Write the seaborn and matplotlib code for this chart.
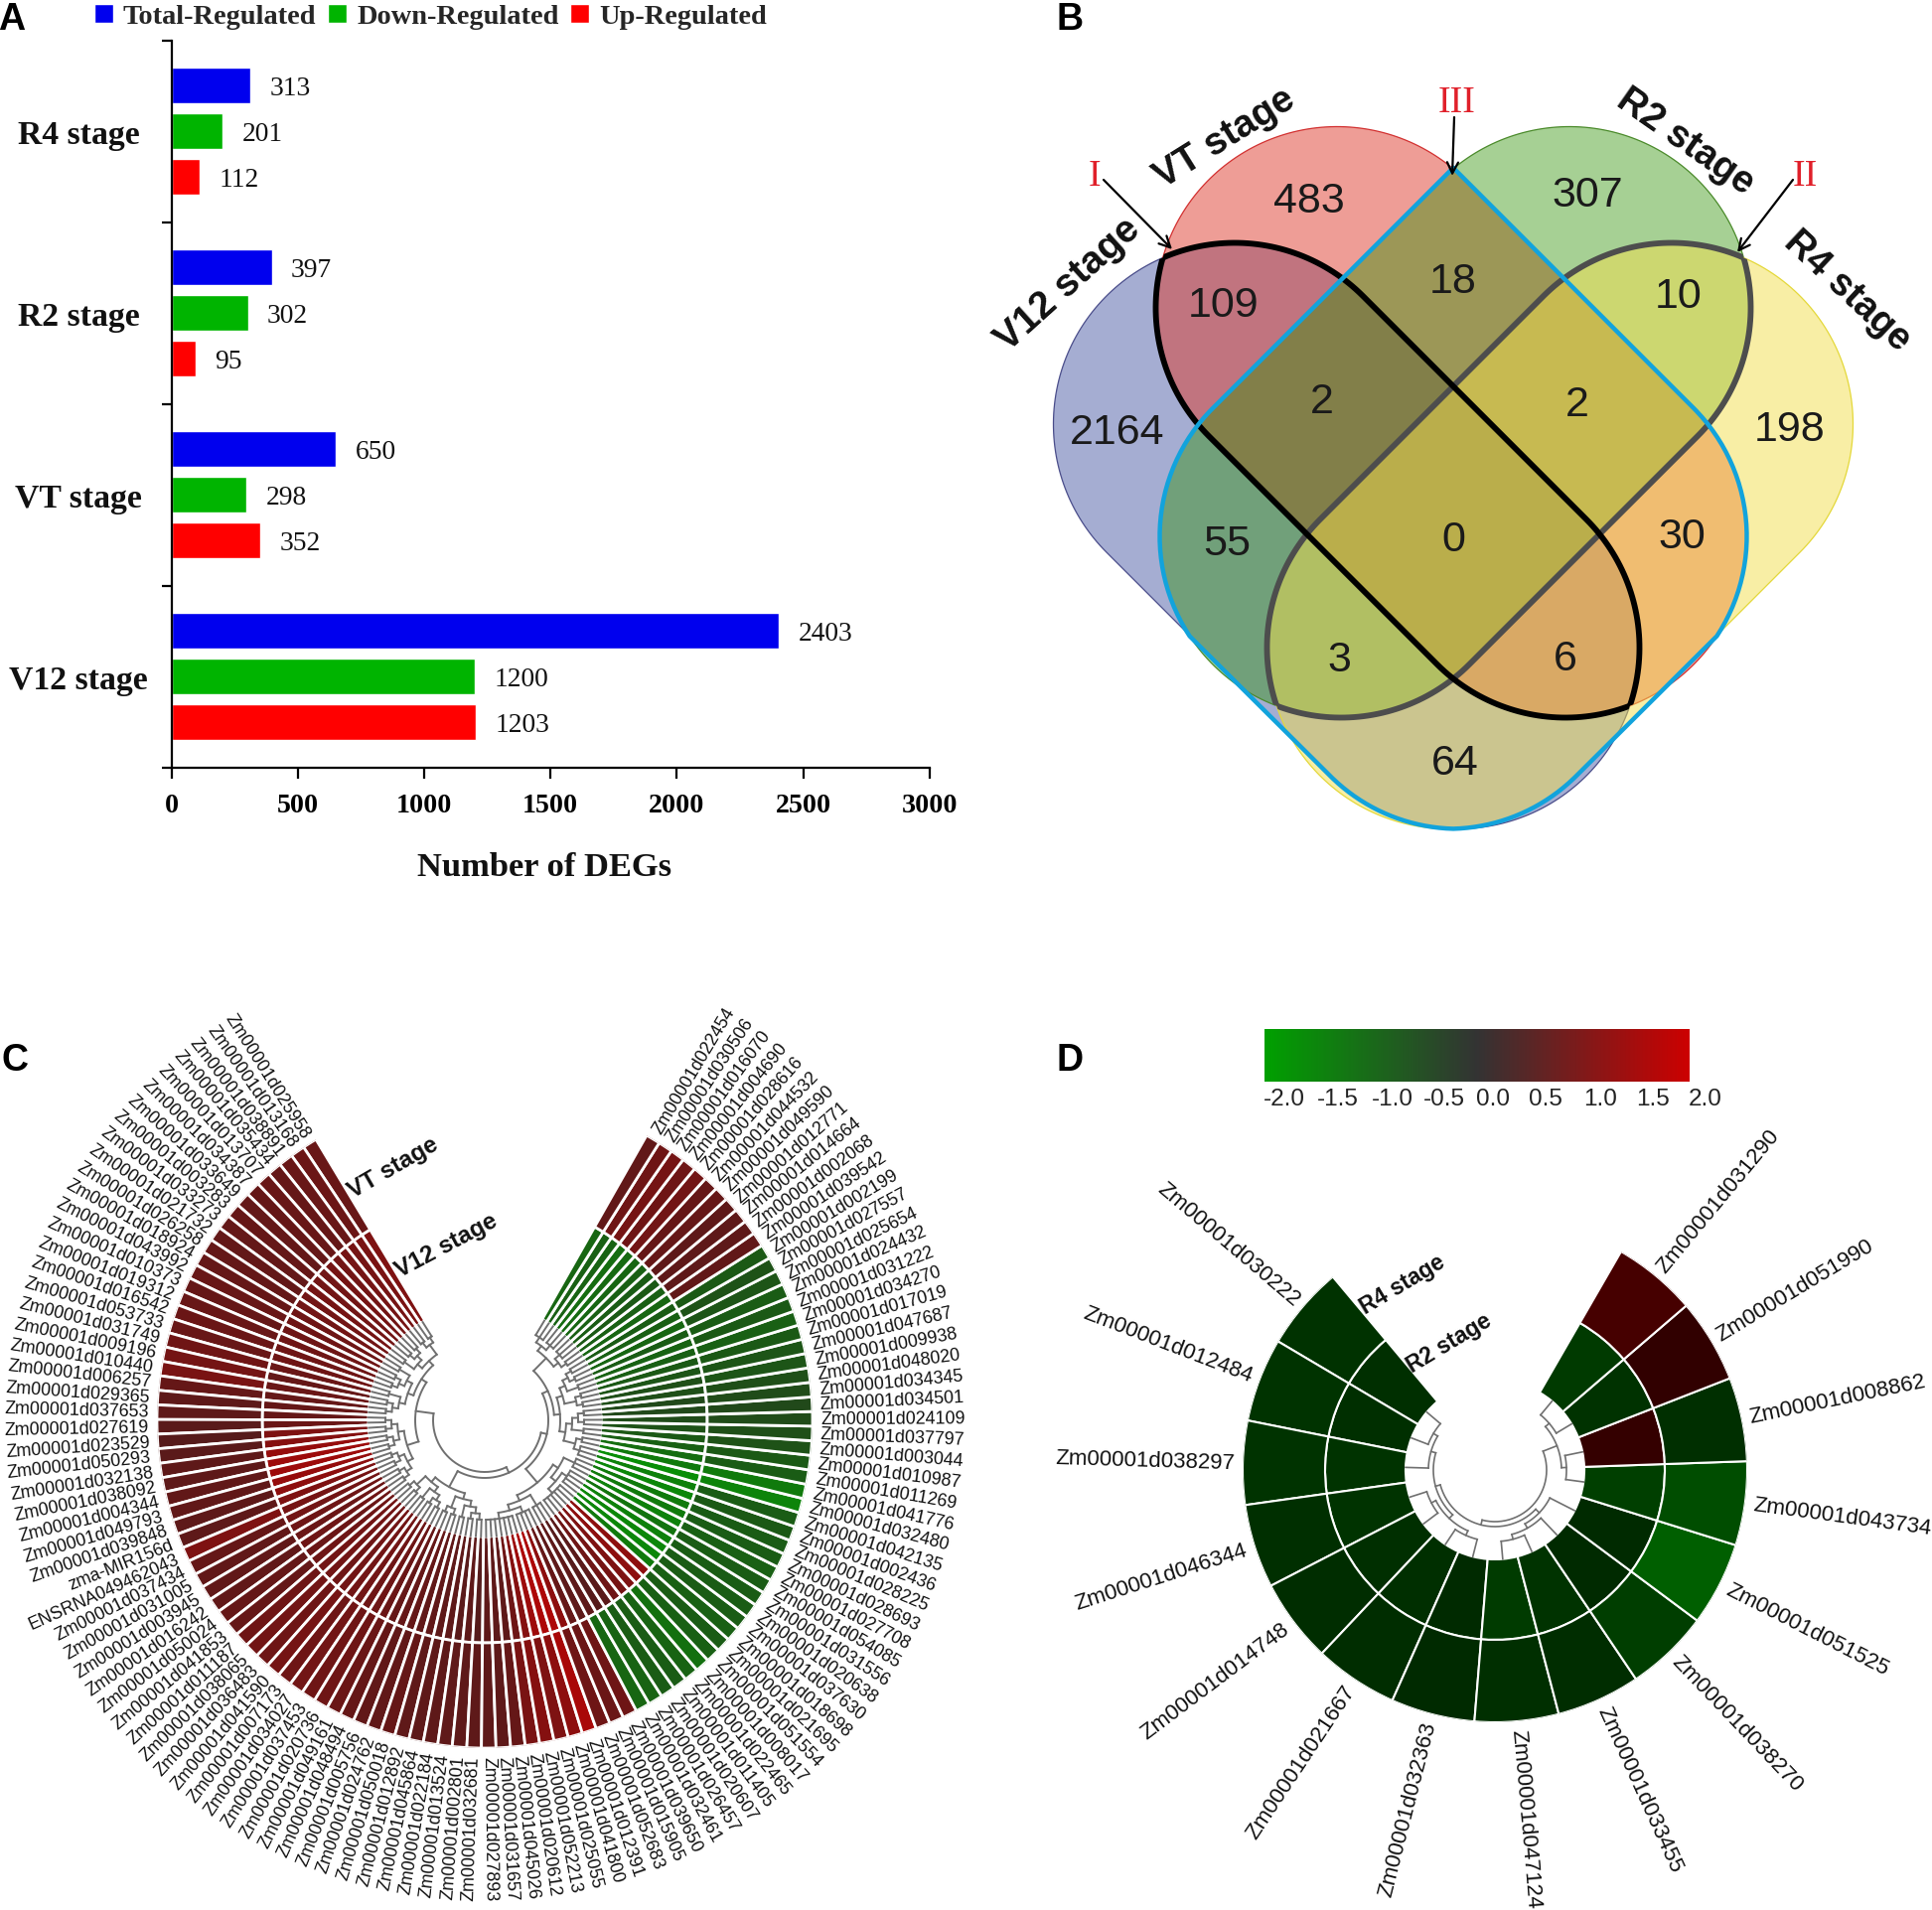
import numpy as np
import pandas as pd
import matplotlib
matplotlib.use("Agg")
import matplotlib.pyplot as plt
from matplotlib.patches import Polygon
from matplotlib.colors import Normalize
import seaborn as sns

W, H = 1945, 1924
sns.set_theme(style="white")
plt.rcParams["font.family"] = ["Liberation Sans", "DejaVu Sans"]

# ---------- Panel A data ----------
stages = ["R4 stage", "R2 stage", "VT stage", "V12 stage"]
total_reg = [313, 397, 650, 2403]
down_reg = [201, 302, 298, 1200]
up_reg = [112, 95, 352, 1203]
reg_names = ["Total-Regulated", "Down-Regulated", "Up-Regulated"]
reg_colors = ["#0000ee", "#00b400", "#ff0000"]
x_ticks = [0, 500, 1000, 1500, 2000, 2500, 3000]

# ---------- Panel B data ----------
venn_counts = ["483", "307", "109", "18", "10", "2", "2", "2164", "198", "55", "0", "30", "3", "6", "64"]
venn_stage_names = ["V12 stage", "VT stage", "R2 stage", "R4 stage"]
venn_marks = ["I", "II", "III"]

# ---------- Panel C data (counter-clockwise from the top left) ----------
genes_c = """Zm00001d025958 Zm00001d013168 Zm00001d038891 Zm00001d035434 Zm00001d013707 Zm00001d034387
Zm00001d033649 Zm00001d003283 Zm00001d033273 Zm00001d021732 Zm00001d026258 Zm00001d018924 Zm00001d043992
Zm00001d010373 Zm00001d019312 Zm00001d016542 Zm00001d053733 Zm00001d031749 Zm00001d009196 Zm00001d010440
Zm00001d006257 Zm00001d029365 Zm00001d037653 Zm00001d027619 Zm00001d023529 Zm00001d050293 Zm00001d032138
Zm00001d038092 Zm00001d004344 Zm00001d049793 Zm00001d039848 zma-MIR156d ENSRNA049462043 Zm00001d037434
Zm00001d031005 Zm00001d003945 Zm00001d016242 Zm00001d050024 Zm00001d041853 Zm00001d011187 Zm00001d038065
Zm00001d036483 Zm00001d041590 Zm00001d007173 Zm00001d034027 Zm00001d037453 Zm00001d020736 Zm00001d049161
Zm00001d048494 Zm00001d005756 Zm00001d024762 Zm00001d050018 Zm00001d012892 Zm00001d045864 Zm00001d022184
Zm00001d013524 Zm00001d002801 Zm00001d032681 Zm00001d027893 Zm00001d031657 Zm00001d045026 Zm00001d020612
Zm00001d052213 Zm00001d025055 Zm00001d041800 Zm00001d012391 Zm00001d052683 Zm00001d015905 Zm00001d039650
Zm00001d032461 Zm00001d026457 Zm00001d020607 Zm00001d011405 Zm00001d022465 Zm00001d008017 Zm00001d051554
Zm00001d021695 Zm00001d018698 Zm00001d037630 Zm00001d020638 Zm00001d031556 Zm00001d054085 Zm00001d027708
Zm00001d028693 Zm00001d028225 Zm00001d002436 Zm00001d042135 Zm00001d032480 Zm00001d041776 Zm00001d011269
Zm00001d010987 Zm00001d003044 Zm00001d037797 Zm00001d024109 Zm00001d034501 Zm00001d034345 Zm00001d048020
Zm00001d009938 Zm00001d047687 Zm00001d017019 Zm00001d034270 Zm00001d031222 Zm00001d024432 Zm00001d025654
Zm00001d027557 Zm00001d002199 Zm00001d039542 Zm00001d002068 Zm00001d014664 Zm00001d012771 Zm00001d049590
Zm00001d044532 Zm00001d028616 Zm00001d004690 Zm00001d016070 Zm00001d030506 Zm00001d022454""".split()

vt_values = [
    .72, .78, .72, .70, .72, .70, .68, .70, .68, .66,
    .68, .70, .72, .70, .72, .75, .72, .82, .88, .95,
    .70, .60, .60, .55, .50, .55, .60, .60, .65, .65,
    .60, .60, 1.0, .70, .65, .65, .65, .70, .70, .80,
    .85, .80, .90, .80, .85, .80, .80, .75, .70, .65,
    .65, .70, .62, .60, .60, .62, .60, .60, .60, .60,
    .70, .95, 1.1, 1.0, 1.2, 1.55, .80, .75, .80, -1.0,
    -.95, -.85, -.85, -.95, -1.15, -.90, -.85, -.90, -.85, -.85,
    -.85, -.85, -.90, -.85, -.85, -.80, -.85, -1.45, -1.3, -.85,
    -.80, -.70, -.65, -.60, -.55, -.60, -.65, -.75, -.75, -.80,
    -.90, -.80, -.85, -.75, -.70, -.80, .65, .60, .60, .60,
    .70, .70, .85, .80, .90, .80, .65,
]
v12_values = [
    1.0, .95, .90, .90, .85, .90, .85, .85, .90, .85,
    .85, .80, .80, .80, .80, .80, .80, .75, .70, .75,
    .70, .70, .70, .75, 1.0, 1.1, 1.3, 1.4, 1.4, 1.3,
    1.2, 1.0, .90, .85, .80, .75, .80, .75, .80, .85,
    .85, .80, .85, .85, .85, .80, .80, .75, .70, .70,
    .70, .65, .65, .60, .60, .55, .60, .50, .60, .60,
    .60, .80, 1.1, 1.4, 1.6, 1.6, 1.2, .70, .60, .60,
    .50, .55, .80, .90, 1.0, 1.2, 1.2, -1.3, -1.5, -1.5,
    -1.4, -1.2, -1.4, -1.3, -1.3, -1.5, -1.4, -1.6, -1.3, -1.1,
    -.90, -.80, -.70, -.60, -.55, -.55, -.65, -.65, -.75, -.80,
    -.90, -.95, -.85, -1.0, -.90, -.85, -1.0, -.90, -.80, -.85,
    -.90, -1.0, -1.05, -1.1, -.95, -.90, -1.0,
]
# integer = a fan of that many leaves, list = a joining node
L1 = [[[2, 2], [[2, 2], 2]], [[2, [2, 2]], [2, [2, 2]]]]
L2 = [[[2, 2], [2, 2]], [[2, 2], [2, 2]]]
L3 = [[[2, 2], [2, [2, 2]]], [[2, 2], [2, [2, 2]]]]
F1 = [[7, 4], 3]
F2 = [[6, 4], 3]
R1 = [[[3, 2], [2, [2, 2]]], [[2, 2], [2, [2, 2]]]]
R2 = [[2, 3], [3, 3]]
tree_c = [[L1, L2], [L3, [[F1, F2], [R1, R2]]]]

# ---------- Panel D data ----------
genes_d = ["Zm00001d030222", "Zm00001d012484", "Zm00001d038297", "Zm00001d046344", "Zm00001d014748",
           "Zm00001d021667", "Zm00001d032363", "Zm00001d047124", "Zm00001d033455", "Zm00001d038270",
           "Zm00001d051525", "Zm00001d043734", "Zm00001d008862", "Zm00001d051990", "Zm00001d031290"]
r4_values = [-.58, -.60, -.60, -.55, -.52, -.52, -.50, -.55, -.52, -.72, -1.12, -.90, -.55, .47, .68]
r2_values = [-.55, -.55, -.60, -.60, -.55, -.55, -.50, -.70, -.60, -.50, -.50, -.75, .50, -.58, -.68]
tree_d = [[[[2, 1], [2, 2]], [[2, 1], 1]], [2, 2]]
cbar_labels = ["-2.0", "-1.5", "-1.0", "-0.5", "0.0", "0.5", "1.0", "1.5", "2.0"]

# ---------- helpers ----------
fig = plt.figure(figsize=(W / 100, H / 100), dpi=100, facecolor="white")


def px_axes(x, y, w, h, **kw):
    return fig.add_axes([x / W, 1 - (y + h) / H, w / W, h / H], **kw)


cmap_bar = sns.blend_palette(["#00a000", "#333333", "#cc0000"], n_colors=256, as_cmap=True)
cmap_c = sns.blend_palette(["#00a800", "#2e2424", "#cc0000"], n_colors=256, as_cmap=True)
cmap_d = sns.blend_palette(["#00aa00", "#000000", "#cc0000"], n_colors=256, as_cmap=True)
norm = Normalize(-2, 2)

# ---------- Panel A ----------
ax_a = px_axes(172.7, 41.7, 763, 732)
df = pd.DataFrame({
    "stage": stages * 3,
    "count": total_reg + down_reg + up_reg,
    "type": [reg_names[0]] * 4 + [reg_names[1]] * 4 + [reg_names[2]] * 4,
})
sns.barplot(data=df, y="stage", x="count", hue="type", order=stages, hue_order=reg_names,
            palette=reg_colors, width=0.75, gap=0.214, saturation=1, ax=ax_a, orient="h")
ax_a.set_xlim(0, 3000)
ax_a.set_ylim(3.5, -0.5)
sns.despine(ax=ax_a)
for s in ("left", "bottom"):
    ax_a.spines[s].set_linewidth(1.6)
    ax_a.spines[s].set_color("black")
for cont in ax_a.containers:
    for t in ax_a.bar_label(cont, fmt="%d", padding=14, fontsize=19.8, family="Liberation Serif", color="#111111"):
        t.xyann = (14, -1.6)
ax_a.set_xticks(x_ticks)
ax_a.set_xticklabels([str(t) for t in x_ticks], fontsize=20.2, fontweight="bold", family="Liberation Serif")
ax_a.tick_params(axis="x", length=8, width=1.6, bottom=True, pad=10, color="black", labelcolor="black")
ax_a.set_yticks(range(len(stages)))
ax_a.set_yticklabels(stages, fontsize=24.3, fontweight="bold", family="Liberation Serif", ha="center", color="#111111")
ax_a.set_yticks(np.arange(-0.5, 4), minor=True)
ax_a.tick_params(axis="y", which="major", length=0, pad=67.5, left=False)
ax_a.tick_params(axis="y", which="minor", length=7.2, width=1.6, left=True, color="black")
ax_a.set_ylabel("")
ax_a.set_xlabel("Number of DEGs", fontsize=24.8, fontweight="bold", family="Liberation Serif", color="#111111")
ax_a.xaxis.set_label_coords(0.492, -0.1157)
handles, labels = ax_a.get_legend_handles_labels()
ax_a.legend(handles, labels, ncol=3, loc="center left", bbox_to_anchor=(95 / W, 1 - 17.5 / H),
            bbox_transform=fig.transFigure, frameon=False, borderaxespad=0, borderpad=0,
            handlelength=0.66, handleheight=0.66, handletextpad=0.36, columnspacing=0.42,
            prop={"family": "Liberation Serif", "weight": "bold", "size": 20.4})


# ---------- polar wheels ----------
def draw_tree(ax, node, cursor, thetas, leaf_r, first_r, step, color, lw):
    """Walk a nested tree of leaf counts and draw it; returns (theta, radius) of the node."""
    kids = []
    if isinstance(node, int):
        if node == 1:
            t = thetas[cursor[0]]
            cursor[0] += 1
            return t, leaf_r
        for _ in range(node):
            kids.append((thetas[cursor[0]], leaf_r))
            cursor[0] += 1
        r_node = first_r
    else:
        kids = [draw_tree(ax, k, cursor, thetas, leaf_r, first_r, step, color, lw) for k in node]
        r_node = min(k[1] for k in kids) - step
        r_node = min(r_node, first_r)
    for t, r in kids:
        ax.plot([t, t], [r, r_node], color=color, lw=lw, solid_capstyle="projecting")
    t0, t1 = kids[0][0], kids[-1][0]
    ax.plot(np.linspace(t0, t1, 30), np.full(30, r_node), color=color, lw=lw, solid_capstyle="projecting")
    return (t0 + t1) / 2, r_node


def wheel(cx, cy, radii, start_deg, sweep_deg, genes, outer, inner, cmap, tree,
          leaf_r, first_r, step, fs, gap, edge_lw, tree_lw):
    R = radii[-1]
    ax = px_axes(cx - R, cy - R, 2 * R, 2 * R, projection="polar")
    n = len(genes)
    d = np.deg2rad(sweep_deg / n)
    theta = np.deg2rad(start_deg) + d * (np.arange(n) + 0.5)
    ax.bar(theta, radii[1] - radii[0], width=d, bottom=radii[0], color=cmap(norm(inner)),
           edgecolor="white", linewidth=edge_lw)
    ax.bar(theta, radii[2] - radii[1], width=d, bottom=radii[1], color=cmap(norm(outer)),
           edgecolor="white", linewidth=edge_lw)
    draw_tree(ax, tree, [0], theta, leaf_r, first_r, step, "#707070", tree_lw)
    for t, g in zip(theta, genes):
        deg = np.rad2deg(t) % 360
        if 90 < deg < 270:
            rot, ha = deg - 180, "right"
        else:
            rot, ha = (deg - 360 if deg > 180 else deg), "left"
        ax.text(t, R + gap, g, rotation=rot, rotation_mode="anchor", ha=ha, va="center",
                fontsize=fs, color="#111111", clip_on=False)
    ax.set_ylim(0, R)
    ax.set_axis_off()
    return ax


wheel(488, 1431, [117, 224, 330], 121, 299.4, genes_c, np.array(vt_values), np.array(v12_values),
      cmap_c, tree_c, 117, 100, 6, 12.9, 8, 2.0, 1.4)
wheel(1505, 1481, [90, 171, 254], 130, 290, genes_d, np.array(r4_values), np.array(r2_values),
      cmap_d, tree_d, 90, 72, 5, 16, 8, 1.5, 1.2)

# ---------- colour bar ----------
ax_cb = px_axes(1273, 1037, 428, 53)
sns.heatmap(np.linspace(-2, 2, 256).reshape(1, -1), cmap=cmap_bar, vmin=-2, vmax=2, cbar=False,
            xticklabels=False, yticklabels=False, ax=ax_cb)

# ---------- overlay in pixel coordinates ----------
ov = fig.add_axes([0, 0, 1, 1], facecolor="none")
ov.set_xlim(0, W)
ov.set_ylim(H, 0)
ov.set_axis_off()

for lab, x in zip(cbar_labels, [1293, 1347, 1402, 1454, 1503, 1556, 1611, 1664, 1717]):
    ov.text(x, 1107, lab, ha="center", va="center", fontsize=17.5, color="#222222")

for lab, x, y in zip("ABCD", [12, 1077, 15, 1077], [20, 20, 1068, 1068]):
    ov.text(x, y, lab, ha="center", va="center", fontsize=27, fontweight="bold", color="black")

# stage captions on the wheels
ov.text(396, 1176, "VT stage", rotation=30, ha="center", va="center", fontsize=17.4, fontweight="bold", color="#111111")
ov.text(449, 1254, "V12 stage", rotation=28, ha="center", va="center", fontsize=17.4, fontweight="bold", color="#111111")
ov.text(1412, 1294, "R4 stage", rotation=31, ha="center", va="center", fontsize=16.5, fontweight="bold", color="#111111")
ov.text(1459, 1353, "R2 stage", rotation=31, ha="center", va="center", fontsize=16.5, fontweight="bold", color="#111111")


# ---------- Panel B: four long rounded bands ----------
def stadium(c1, c2, r):
    ang = np.arctan2(c2[1] - c1[1], c2[0] - c1[0])
    a1 = np.linspace(ang + np.pi / 2, ang + 3 * np.pi / 2, 120)
    a2 = np.linspace(ang - np.pi / 2, ang + np.pi / 2, 120)
    xs = np.r_[c1[0] + r * np.cos(a1), c2[0] + r * np.cos(a2)]
    ys = np.r_[c1[1] + r * np.sin(a1), c2[1] + r * np.sin(a2)]
    return np.c_[xs, ys]


MX = 1463
r_b = 182.5
A_top, A_low = (1243, 428), (1468, 653)
B_top, B_low = (1346, 311), (1576, 541)
C_top, C_low = (2 * MX - B_top[0], B_top[1]), (2 * MX - B_low[0], B_low[1])
D_top, D_low = (2 * MX - A_top[0], A_top[1]), (2 * MX - A_low[0], A_low[1])
shapes = {
    "A": stadium(A_top, A_low, r_b),
    "B": stadium(B_top, B_low, r_b),
    "C": stadium(C_top, C_low, r_b),
    "D": stadium(D_top, D_low, r_b),
}
fills = {"A": (0.30, 0.36, 0.65, 0.5), "B": (0.87, 0.24, 0.18, 0.5),
         "C": (0.17, 0.56, 0.0, 0.42), "D": (0.95, 0.87, 0.30, 0.5)}
edges = {"A": "#4a4d8a", "B": "#d23030", "C": "#4a8a2a", "D": "#e4d83a"}
patches = {}
for k in "ABCD":
    p = Polygon(shapes[k], closed=True, facecolor=fills[k], edgecolor=edges[k], lw=0.9, zorder=2)
    ov.add_patch(p)
    patches[k] = p

for a, b, col in (("C", "D", "#4d4d4d"), ("D", "C", "#4d4d4d"), ("A", "B", "#000000"), ("B", "A", "#000000")):
    q = Polygon(shapes[a], closed=True, fill=False, edgecolor=col, lw=4.2, zorder=3)
    ov.add_patch(q)
    q.set_clip_path(patches[b])

# outline shared by the lower overlaps, left half built from the band geometry, then mirrored
arc_c = np.deg2rad(np.linspace(225, 146.6, 60))
arc_a = np.deg2rad(np.linspace(135, 91.6, 40))
apex_y = C_top[0] + C_top[1] - r_b * np.sqrt(2) - MX
left_x = np.r_[MX, C_low[0] + r_b * np.cos(arc_c), A_low[0] + r_b * np.cos(arc_a)]
left_y = np.r_[apex_y, C_low[1] + r_b * np.sin(arc_c), A_low[1] + r_b * np.sin(arc_a)]
blue_x = np.r_[left_x, 2 * MX - left_x[::-1]]
blue_y = np.r_[left_y, left_y[::-1]]
ov.plot(blue_x, blue_y, color="#12a3dc", lw=3.2, zorder=4, solid_joinstyle="round")

venn_xy = [(1318, 201), (1598, 195), (1232, 306), (1463, 282), (1690, 297), (1331, 403), (1588, 406),
           (1125, 434), (1802, 431), (1235, 546), (1463, 542), (1693, 539), (1348, 663), (1576, 662), (1465, 767)]
for txt, (x, y) in zip(venn_counts, venn_xy):
    ov.text(x, y + 2, txt, ha="center", va="center", fontsize=31, color="#1a1a1a", zorder=6)

for name, (x, y), rot, fs in zip(venn_stage_names,
                                 [(1075, 287), (1233, 140), (1697, 143), (1860, 293)],
                                 [42, 32, -35, -43], [28, 27.5, 27.5, 27.5]):
    ov.text(x, y, name, rotation=rot, ha="center", va="center", fontsize=fs, fontweight="bold", color="#111111", zorder=6)

for mark, (tx, ty), start, end in zip(venn_marks,
                                      [(1102, 178), (1817, 178), (1467, 104)],
                                      [(1111, 182), (1805, 182), (1464, 119)],
                                      [(1180, 252), (1749, 255), (1462, 178)]):
    ov.text(tx, ty, mark, ha="center", va="center", fontsize=27, color="#e0202a",
            family="Liberation Serif", zorder=6)
    ov.annotate("", xy=end, xytext=start, zorder=7,
                arrowprops=dict(arrowstyle="->", lw=1.6, color="black", mutation_scale=20, shrinkA=0, shrinkB=0))

fig.savefig("out.png", dpi=100, facecolor="white")
